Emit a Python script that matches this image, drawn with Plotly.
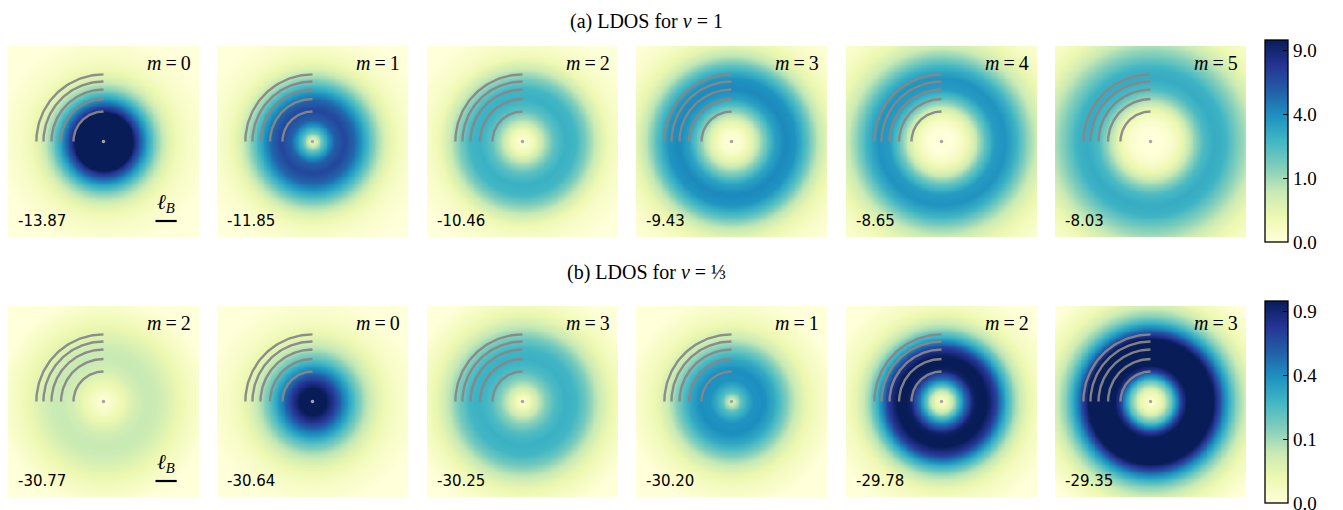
import numpy as np
import plotly.graph_objects as go

# ---------------- data ----------------
# radial sample positions, in units of the magnetic length l_B
r_samples = [0.0, 0.5, 1.0, 1.5, 2.0, 2.5, 3.0, 3.5, 4.0, 4.5, 5.0, 5.5, 6.0, 6.5]

# (a) nu = 1
nu1_m = [0, 1, 2, 3, 4, 5]
nu1_energy = ["-13.87", "-11.85", "-10.46", "-9.43", "-8.65", "-8.03"]
nu1_ldos = [
    [30, 26, 18, 8.0, 3.5, 1.2, 0.35, 0.1, 0.03, 0.01, 0, 0, 0, 0],
    [0.05, 2.2, 5.5, 6.8, 5.2, 2.8, 1.1, 0.3, 0.08, 0.02, 0.005, 0, 0, 0],
    [0, 0.1, 0.8, 2.0, 2.7, 2.5, 1.4, 0.5, 0.12, 0.03, 0.01, 0, 0, 0],
    [0, 0.02, 0.3, 1.4, 3.2, 4.2, 3.8, 2.2, 0.8, 0.25, 0.08, 0.02, 0.005, 0],
    [0, 0, 0.05, 0.4, 1.8, 3.5, 3.8, 2.7, 1.3, 0.5, 0.2, 0.07, 0.02, 0.01],
    [0, 0, 0.02, 0.2, 1.0, 2.3, 2.9, 2.6, 1.6, 0.9, 0.4, 0.15, 0.05, 0.02],
]
nu1_ticks = [0.0, 1.0, 4.0, 9.0]
nu1_ticktext = ["0.0", "1.0", "4.0", "9.0"]
nu1_max = 10.0

# (b) nu = 1/3
nu3_m = [2, 0, 3, 1, 2, 3]
nu3_energy = ["-30.77", "-30.64", "-30.25", "-30.20", "-29.78", "-29.35"]
nu3_ldos = [
    [0, 0.005, 0.02, 0.045, 0.06, 0.055, 0.035, 0.018, 0.007, 0.002, 0, 0, 0, 0],
    [1.3, 1.1, 0.75, 0.42, 0.2, 0.08, 0.03, 0.01, 0.003, 0.001, 0, 0, 0, 0],
    [0, 0.03, 0.12, 0.22, 0.27, 0.25, 0.16, 0.07, 0.025, 0.008, 0.002, 0, 0, 0],
    [0.02, 0.22, 0.38, 0.4, 0.3, 0.16, 0.06, 0.02, 0.006, 0.002, 0, 0, 0, 0],
    [0, 0.06, 0.42, 0.95, 1.1, 0.75, 0.3, 0.09, 0.025, 0.006, 0.002, 0, 0, 0],
    [0, 0.02, 0.2, 0.8, 1.35, 1.4, 0.95, 0.4, 0.14, 0.045, 0.012, 0.003, 0, 0],
]
nu3_ticks = [0.0, 0.1, 0.4, 0.9]
nu3_ticktext = ["0.0", "0.1", "0.4", "0.9"]
nu3_max = 1.0

# guide arcs: radii sqrt(2(k+1)) l_B, k = 0..4
arc_radii = [2 ** 0.5, 4 ** 0.5, 6 ** 0.5, 8 ** 0.5, 10 ** 0.5]

row_titles = ["(a) LDOS for <i>ν</i> = 1", "(b) LDOS for <i>ν</i> = ⅓"]

# ---------------- layout constants ----------------
W, H = 1343, 510
HALF = 4.5                       # half width of a panel in l_B
panel_left = [8, 217, 427, 636, 846, 1055]
panel_size = 191
row_top = [46, 306]
PX = panel_size / (2 * HALF)     # pixels per l_B

ylgnbu = [
    [0.0, "#ffffd9"], [0.125, "#edf8b1"], [0.25, "#c7e9b4"],
    [0.375, "#7fcdbb"], [0.5, "#41b6c4"], [0.625, "#1d91c0"],
    [0.75, "#225ea8"], [0.875, "#253494"], [1.0, "#081d58"],
]

SERIF = "Liberation Serif"
SANS = "DejaVu Sans"

N = 110
g = np.linspace(-HALF, HALF, N)
XX, YY = np.meshgrid(g, g)
RR = np.sqrt(XX ** 2 + YY ** 2)
rs = np.array(r_samples)

fig = go.Figure()
annotations = []
shapes = []

rows = [
    (nu1_m, nu1_energy, nu1_ldos, "coloraxis"),
    (nu3_m, nu3_energy, nu3_ldos, "coloraxis2"),
]

arc_x, arc_y = [], []
for rad in arc_radii:
    th = np.linspace(np.pi / 2, np.pi, 60)
    arc_x += list(rad * np.cos(th)) + [None]
    arc_y += list(rad * np.sin(th)) + [None]

idx = 0
for ri, (ms, energies, profiles, cax) in enumerate(rows):
    for ci in range(6):
        idx += 1
        xa = "x" if idx == 1 else f"x{idx}"
        ya = "y" if idx == 1 else f"y{idx}"
        xk = "xaxis" if idx == 1 else f"xaxis{idx}"
        yk = "yaxis" if idx == 1 else f"yaxis{idx}"
        L = panel_left[ci]
        T = row_top[ri]
        fig.update_layout({
            xk: dict(domain=[L / W, (L + panel_size) / W], range=[-HALF, HALF],
                     visible=False, fixedrange=True),
            yk: dict(domain=[1 - (T + panel_size) / H, 1 - T / H], range=[-HALF, HALF],
                     visible=False, fixedrange=True),
        })
        # radial profile -> image (colour by sqrt of the LDOS)
        sq = np.sqrt(np.array(profiles[ci], dtype=float))
        z = np.interp(RR, rs, sq)
        fig.add_trace(go.Heatmap(x=g, y=g, z=np.round(z, 4), coloraxis=cax,
                                 zsmooth="best", xaxis=xa, yaxis=ya,
                                 hoverinfo="skip"))
        fig.add_trace(go.Scatter(x=arc_x, y=arc_y, mode="lines", xaxis=xa, yaxis=ya,
                                 line=dict(color="rgba(135,135,135,0.95)", width=2.4),
                                 hoverinfo="skip", showlegend=False))
        fig.add_trace(go.Scatter(x=[0], y=[0], mode="markers", xaxis=xa, yaxis=ya,
                                 marker=dict(color="rgb(165,165,165)", size=3.5),
                                 hoverinfo="skip", showlegend=False))
        annotations.append(dict(
            xref=xa, yref=ya, x=HALF - 6 / PX, y=(panel_size / 2 - 17) / PX,
            xanchor="right", yanchor="middle", showarrow=False,
            text=f"<i>m</i>\u2009=\u2009{ms[ci]}",
            font=dict(family=SERIF, size=20, color="black")))
        annotations.append(dict(
            xref=xa, yref=ya, x=-HALF + 8 / PX, y=-(175 - panel_size / 2) / PX,
            xanchor="left", yanchor="middle", showarrow=False,
            text=energies[ci], font=dict(family=SANS, size=15, color="black")))
        if ci == 0:
            by = -(175 - panel_size / 2) / PX
            shapes.append(dict(type="line", xref=xa, yref=ya,
                               x0=2.45, x1=3.45, y0=by, y1=by,
                               line=dict(color="black", width=2.2)))
            annotations.append(dict(
                xref=xa, yref=ya, x=2.95, y=by + 18 / PX,
                xanchor="center", yanchor="middle", showarrow=False,
                text="<i>ℓ</i><sub><i>B</i></sub>",
                font=dict(family=SERIF, size=21, color="black")))

for ri, ty in enumerate([22, 272]):
    annotations.append(dict(
        xref="paper", yref="paper", x=646 / W, y=1 - ty / H,
        xanchor="center", yanchor="middle", showarrow=False,
        text=row_titles[ri], font=dict(family=SERIF, size=20, color="black")))


def cbar(y_center, ticks, ticktext):
    return dict(
        x=1265 / W, xanchor="left", xpad=0,
        y=1 - y_center / H, yanchor="middle", ypad=0,
        len=202, lenmode="pixels", thickness=23, thicknessmode="pixels",
        outlinecolor="black", outlinewidth=1.3,
        tickvals=[t ** 0.5 for t in ticks], ticktext=ticktext,
        ticks="inside", ticklen=5, tickwidth=1, tickcolor="black",
        ticklabeloverflow="allow",
        tickfont=dict(family=SERIF, size=19, color="black"),
    )


fig.update_layout(
    width=W, height=H,
    margin=dict(l=0, r=0, t=0, b=0),
    paper_bgcolor="white", plot_bgcolor="white",
    showlegend=False,
    coloraxis=dict(colorscale=ylgnbu, cmin=0, cmax=nu1_max ** 0.5,
                   colorbar=cbar(141, nu1_ticks, nu1_ticktext)),
    coloraxis2=dict(colorscale=ylgnbu, cmin=0, cmax=nu3_max ** 0.5,
                    colorbar=cbar(402, nu3_ticks, nu3_ticktext)),
    annotations=annotations,
    shapes=shapes,
)

fig.write_html("out.html", config={"displayModeBar": False})
